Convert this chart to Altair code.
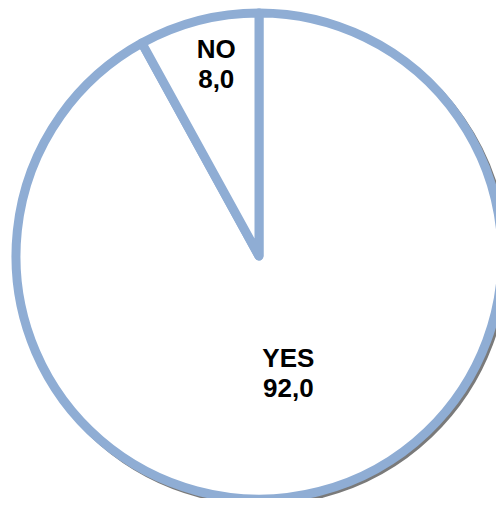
import altair as alt
import pandas as pd

categories = ["YES", "NO"]
values = [92.0, 8.0]

df = pd.DataFrame({
    "category": categories,
    "value": values,
    "order": [0, 1],
})
df["value_label"] = [f"{v:.1f}".replace(".", ",") for v in values]

cx, cy, R = 251, 248, 243

base = alt.Chart(df).encode(
    theta=alt.Theta("value:Q", stack=True),
    order=alt.Order("order:Q"),
)

shadow = base.mark_arc(
    outerRadius=R, fill="white", stroke="#222222", strokeWidth=8, opacity=0.6,
    x=cx + 2.5, y=cy + 2.5, strokeJoin="round"
)
pie = base.mark_arc(
    outerRadius=R, fill="white", stroke="#8fadd4", strokeWidth=9,
    x=cx, y=cy, strokeJoin="round"
)

def lbl(cat, field, radius, dx, dy):
    return base.mark_text(
        radius=radius, x=cx, y=cy, dx=dx, dy=dy, font="Liberation Sans",
        fontWeight="bold", fontSize=26, color="black",
        baseline="middle", align="center"
    ).encode(
        text=alt.condition(alt.datum.category == cat, f"{field}:N", alt.value(""))
    )

chart = alt.layer(
    shadow, pie,
    lbl("NO", "category", 196, 6, -16),
    lbl("NO", "value_label", 196, 6, 14),
    lbl("YES", "category", 122, -1, -15),
    lbl("YES", "value_label", 122, -1, 15),
).properties(
    width=488, height=490, autosize=alt.AutoSizeParams(type="none"), padding=0
).configure_view(stroke=None)

chart.save("out.html", embed_options={"renderer": "svg", "actions": False})
